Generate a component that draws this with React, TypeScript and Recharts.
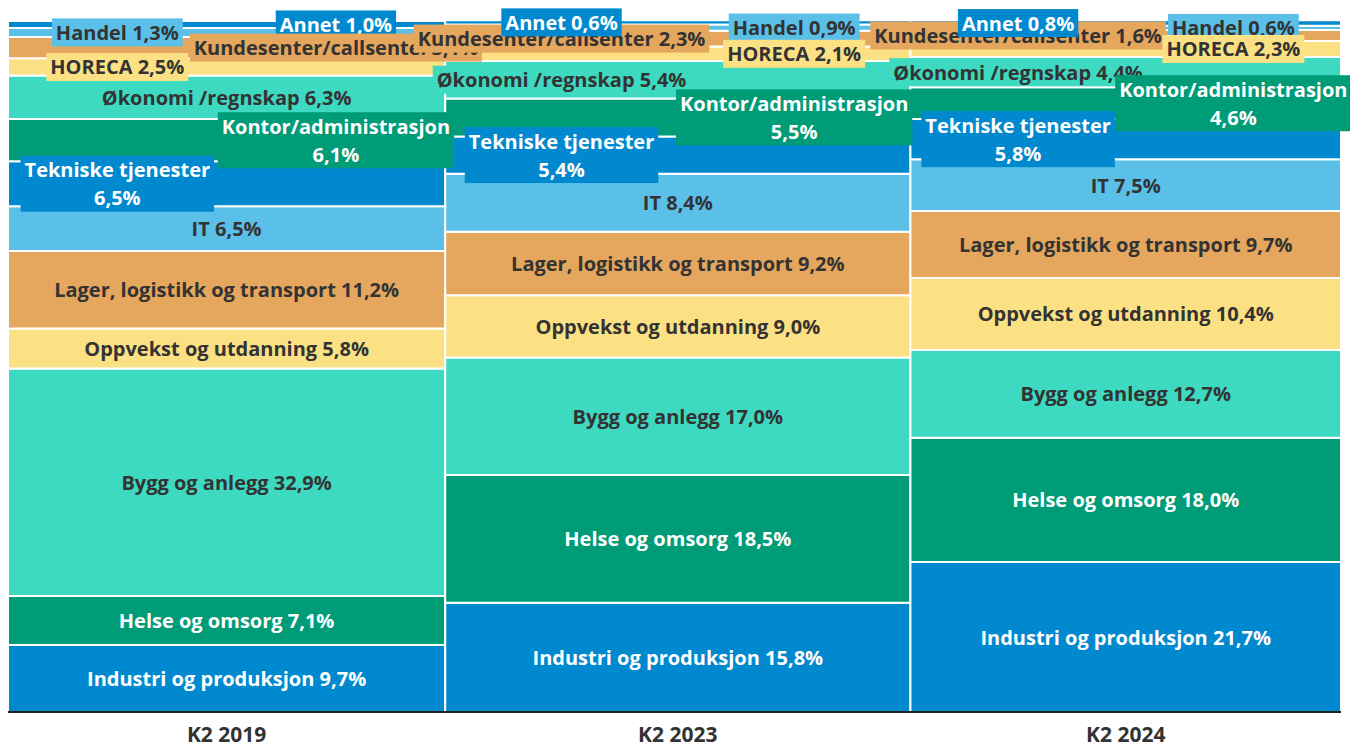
import { ComposedChart, XAxis, YAxis, ReferenceArea } from 'recharts';

const periods = ['K2 2019', 'K2 2023', 'K2 2024'];
// relative width of each column (Marimekko)
const columnShares = [32.8, 34.9, 32.3];

const categories = [
  'Industri og produksjon',
  'Helse og omsorg',
  'Bygg og anlegg',
  'Oppvekst og utdanning',
  'Lager, logistikk og transport',
  'IT',
  'Tekniske tjenester',
  'Kontor/administrasjon',
  'Økonomi /regnskap',
  'HORECA',
  'Kundesenter/callsenter',
  'Handel',
  'Annet',
];

const share2019 = [9.7, 7.1, 32.9, 5.8, 11.2, 6.5, 6.5, 6.1, 6.3, 2.5, 3.1, 1.3, 1.0];
const share2023 = [15.8, 18.5, 17.0, 9.0, 9.2, 8.4, 5.4, 5.5, 5.4, 2.1, 2.3, 0.9, 0.6];
const share2024 = [21.7, 18.0, 12.7, 10.4, 9.7, 7.5, 5.8, 4.6, 4.4, 2.3, 1.6, 0.6, 0.8];

const shares = [share2019, share2023, share2024];

const palette = ['#0089CF', '#009B77', '#3DD9C1', '#FBE183', '#E5A65E', '#5BC0E8'];
const darkText = '#333333';
const labelTextColor = ['#FFFFFF', '#FFFFFF', darkText, darkText, darkText, darkText];

// label placement per column: c = centre, l = left quarter, r = right quarter
const labelPlacement = [
  ['c', 'c', 'c', 'c', 'c', 'c', 'l', 'r', 'c', 'l', 'r', 'l', 'r'],
  ['c', 'c', 'c', 'c', 'c', 'c', 'l', 'r', 'l', 'r', 'l', 'r', 'l'],
  ['c', 'c', 'c', 'c', 'c', 'c', 'l', 'r', 'l', 'r', 'l', 'r', 'l'],
];
const wrappedLabels = ['Tekniske tjenester', 'Kontor/administrasjon'];
const truncatedNames: Record<string, string> = {
  '0|Kundesenter/callsenter': 'Kundesenter/callsente.',
};

const FONT = '"Open Sans", "Noto Sans", sans-serif';
const FONT_SIZE = 20;
const LINE_H = 28;

let ctx: CanvasRenderingContext2D | null = null;
const measure = (s: string) => {
  if (!ctx) ctx = document.createElement('canvas').getContext('2d');
  if (!ctx) return s.length * 10;
  ctx.font = `bold ${FONT_SIZE}px ${FONT}`;
  return ctx.measureText(s).width;
};

const fmt = (v: number) => `${v.toFixed(1).replace('.', ',')}%`;

// column x ranges
const colStart: number[] = [];
columnShares.reduce((acc, w, i) => {
  colStart[i] = acc;
  return acc + w;
}, 0);
const colMid = columnShares.map((w, i) => colStart[i] + w / 2);

const cells = shares.flatMap((col, ci) => {
  let base = 0;
  return col.map((v, si) => {
    const cell = {
      key: `${ci}-${si}`,
      col: ci,
      series: si,
      x1: colStart[ci],
      x2: colStart[ci] + columnShares[ci],
      y1: base,
      y2: base + v,
      value: v,
    };
    base += v;
    return cell;
  });
});

// drawing order of the labels: centred first, then left ones upward, then right ones downward
const labelOrder = (c: { col: number; series: number }) => {
  const p = labelPlacement[c.col][c.series];
  const k = p === 'c' ? 0 : p === 'l' ? 10 + c.series : 50 - c.series;
  return c.col * 100 + k;
};
const labelCells = [...cells].sort((a, b) => labelOrder(a) - labelOrder(b));

const CellLabel = (props: any) => {
  const { viewBox, cell } = props;
  if (!viewBox) return null;
  const { x, y, width, height } = viewBox;
  const place = labelPlacement[cell.col][cell.series];
  const name = categories[cell.series];
  const shown = truncatedNames[`${cell.col}|${name}`] || name;
  const lines =
    place !== 'c' && wrappedLabels.includes(name)
      ? [shown, fmt(cell.value)]
      : [`${shown} ${fmt(cell.value)}`];
  const cx = place === 'l' ? x + width * 0.25 : place === 'r' ? x + width * 0.75 : x + width / 2;
  const cy = y + height / 2;
  const tw = Math.max(...lines.map(measure));
  const boxW = tw + 8;
  const boxH = lines.length * LINE_H;
  const color = palette[cell.series % palette.length];
  return (
    <g>
      {place !== 'c' && (
        <rect x={cx - boxW / 2} y={cy - boxH / 2} width={boxW} height={boxH} fill={color} />
      )}
      {lines.map((ln, i) => (
        <text
          key={i}
          x={cx}
          y={cy + (i - (lines.length - 1) / 2) * LINE_H}
          textAnchor="middle"
          dominantBaseline="central"
          fontFamily={FONT}
          fontWeight={700}
          fontSize={FONT_SIZE}
          fill={labelTextColor[cell.series % palette.length]}
        >
          {ln}
        </text>
      ))}
    </g>
  );
};

const columnRows = periods.map((p, i) => ({ period: p, mid: colMid[i] }));

const App = () => {
  return (
    <div style={{ position: 'absolute', left: 8, top: 8, width: 1342, height: 740 }}>
      <ComposedChart
        width={1342}
        height={740}
        data={columnRows}
        margin={{ top: 13, right: 9, left: 0, bottom: 0 }}
        style={{ overflow: 'visible' }}
      >
        <XAxis
          type="number"
          dataKey="mid"
          domain={[0, 100]}
          ticks={colMid}
          interval={0}
          tickFormatter={(v: number) => periods[colMid.findIndex((m) => Math.abs(m - v) < 0.01)] || ''}
          axisLine={{ stroke: '#222', strokeWidth: 2 }}
          tickLine={false}
          tickMargin={9}
          height={36}
          tick={{ fill: darkText, fontFamily: FONT, fontWeight: 700, fontSize: 21 }}
        />
        <YAxis type="number" domain={[0, 100]} hide allowDataOverflow />
        {cells.map((c) => (
          <ReferenceArea
            key={`a-${c.key}`}
            x1={c.x1}
            x2={c.x2}
            y1={c.y1}
            y2={c.y2}
            fill={palette[c.series % palette.length]}
            fillOpacity={1}
            stroke="#FFFFFF"
            strokeWidth={2}
            ifOverflow="visible"
          />
        ))}
        {labelCells.map((c) => (
          <ReferenceArea
            key={`l-${c.key}`}
            x1={c.x1}
            x2={c.x2}
            y1={c.y1}
            y2={c.y2}
            fill="none"
            stroke="none"
            ifOverflow="visible"
            label={<CellLabel cell={c} />}
          />
        ))}
      </ComposedChart>
    </div>
  );
};

export default App;
